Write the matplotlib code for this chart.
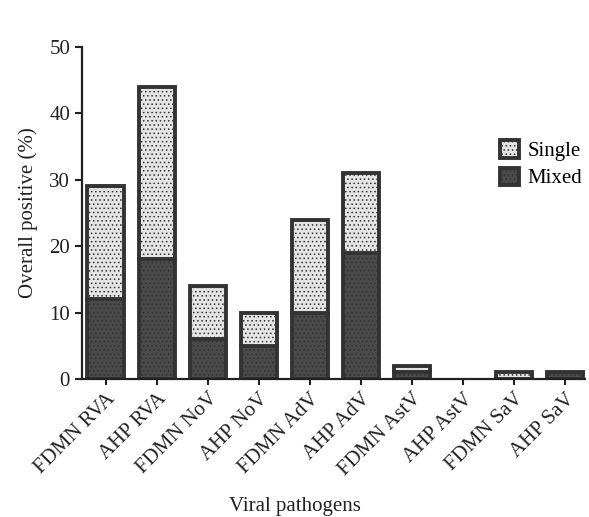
import numpy as np
import matplotlib.pyplot as plt

plt.rcParams['font.family'] = ['Liberation Serif', 'DejaVu Serif']
plt.rcParams['hatch.linewidth'] = 0.6
plt.rcParams['hatch.color'] = '#9a9a9a'

categories = ["FDMN RVA", "AHP RVA", "FDMN NoV", "AHP NoV", "FDMN AdV",
              "AHP AdV", "FDMN AstV", "AHP AstV", "FDMN SaV", "AHP SaV"]
mixed = [12, 18, 6, 5, 10, 19, 1, 0, 0, 1]
single = [17, 26, 8, 5, 14, 12, 1, 0, 1, 0]

fig = plt.figure(figsize=(5.89, 5.17), dpi=100)
ax = fig.add_axes([0.139, 0.267, 0.855, 0.642])

x = np.arange(len(categories))
b1 = ax.bar(x, mixed, width=0.72, color='#4a4a4a', edgecolor='#333333',
            linewidth=2.8, hatch='....', label='Mixed')
b2 = ax.bar(x, single, width=0.72, bottom=mixed, color='#e4e4e4',
            edgecolor='#333333', linewidth=2.8, hatch='....', label='Single')
# no outline for empty segments
for bars, vals in ((b1, mixed), (b2, single)):
    for b, v in zip(bars, vals):
        if v == 0:
            b.set_visible(False)

ax.set_xlim(-0.47, 9.4)
ax.set_ylim(0, 50)
ax.set_yticks([0, 10, 20, 30, 40, 50])
ax.set_xticks(x)
ax.set_xticklabels(categories, rotation=45, ha='right', rotation_mode='anchor')
ax.tick_params(labelsize=15, width=1.5, length=5, color='#222222',
               labelcolor='#222222')
ax.tick_params(axis='x', length=4)
for s in ['top', 'right']:
    ax.spines[s].set_visible(False)
for s in ['left', 'bottom']:
    ax.spines[s].set_linewidth(1.6)
    ax.spines[s].set_color('#222222')

ax.set_ylabel("Overall positive (%)", fontsize=15, color='#222222', labelpad=8)
fig.text(0.5, 0.012, "Viral pathogens", ha='center', fontsize=15, color='#222222')

ax.legend(handles=[b2, b1], loc='upper left', bbox_to_anchor=(0.81, 0.75),
          frameon=False, fontsize=15, handlelength=0.9, handleheight=0.9,
          handletextpad=0.4, labelspacing=0.3, borderpad=0)

fig.savefig("out.png", dpi=100)
